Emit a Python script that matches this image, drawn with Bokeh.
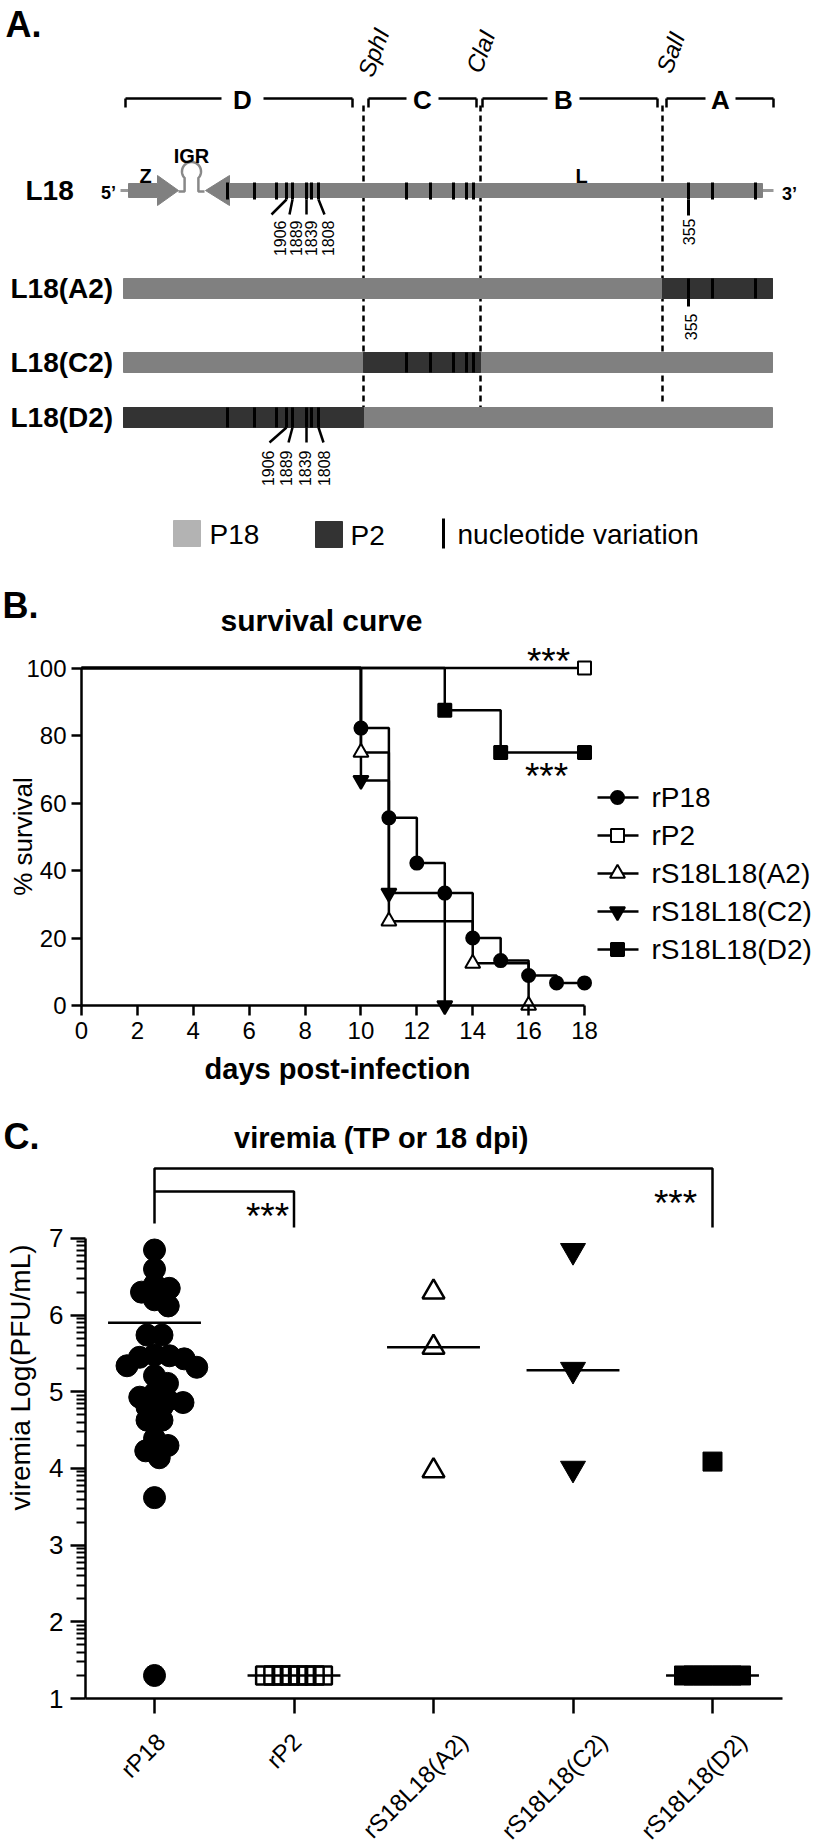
import math
import numpy as np
from bokeh.plotting import figure
from bokeh.models import Range1d, FixedTicker
from bokeh.layouts import column
from bokeh.embed import file_html
from bokeh.resources import INLINE
from bokeh.core.properties import value

FONT = "Liberation Sans"
GRAY = "#808080"
DARK = "#333333"
LIGHT = "#b3b3b3"
W = 820

# ---------------- Panel A data: L segment map (schematic map units) ----------------
seg_names = ["D", "C", "B", "A"]
seg_start = [125, 368, 482, 666]
seg_end = [352, 476, 657, 773]
seg_label_x = [242, 422, 563, 720]
seg_gap = [21, 16, 16, 15]
site_names = ["SphI", "ClaI", "SalI"]
site_pos = [363, 480, 662]
map_start, map_end = 123, 772
var_D = [227, 254, 276, 286, 292, 306, 311, 318]
var_C = [406, 430, 453, 466, 473]
var_A = [688, 712, 755]
pos_labels_D = ["1906", "1889", "1839", "1808"]
pos_label_D_idx = [3, 4, 5, 7]
pos_label_A = "355"
constructs = ["L18(A2)", "L18(C2)", "L18(D2)"]
construct_p2 = [(site_pos[2], map_end), (site_pos[0], site_pos[1]), (map_start, site_pos[0])]
construct_vars = [var_A, var_C, var_D]

# ---------------- Panel B data: survival ----------------
surv_names = ["rP18", "rP2", "rS18L18(A2)", "rS18L18(C2)", "rS18L18(D2)"]
day_ticks = [0, 2, 4, 6, 8, 10, 12, 14, 16, 18]
surv_ticks = [0, 20, 40, 60, 80, 100]
rP18_days = [0, 10, 11, 12, 13, 14, 15, 16, 17, 18]
rP18_surv = [100, 82.2, 55.6, 42.2, 33.3, 20.0, 13.3, 8.9, 6.7, 6.7]
rP2_days = [0, 18]
rP2_surv = [100, 100]
A2_days = [0, 10, 11, 14, 16]
A2_surv = [100, 75.0, 25.0, 12.5, 0.0]
C2_days = [0, 10, 11, 13]
C2_surv = [100, 66.7, 33.3, 0.0]
D2_days = [0, 13, 15, 18]
D2_surv = [100, 87.5, 75.0, 75.0]

# ---------------- Panel C data: viremia ----------------
vir_groups = ["rP18", "rP2", "rS18L18(A2)", "rS18L18(C2)", "rS18L18(D2)"]
vir_ticks = [1, 2, 3, 4, 5, 6, 7]
rP18_vir = [6.85, 6.60, 6.40, 6.35, 6.30, 6.20, 6.12, 5.74, 5.74, 5.48, 5.47, 5.45,
            5.43, 5.34, 5.32, 5.21, 5.11, 4.98, 4.93, 4.89, 4.86, 4.80, 4.80, 4.63,
            4.63, 4.39, 4.30, 4.23, 4.14, 3.62, 1.30]
rP2_vir = [1.30, 1.30, 1.30, 1.30, 1.30, 1.30, 1.30, 1.30]
A2_vir = [6.30, 5.58, 3.97]
C2_vir = [6.84, 5.29, 4.00]
D2_vir = [4.09, 1.30, 1.30, 1.30, 1.30, 1.30, 1.30, 1.30]
vir_center = [5.90, 1.30, 5.58, 5.28, 1.30]


def base_fig(h, xr, yr, **kw):
    p = figure(width=W, height=h, x_range=xr, y_range=yr, toolbar_location=None,
               output_backend="svg", title=None, min_border=0, **kw)
    p.outline_line_color = None
    p.background_fill_color = "white"
    p.border_fill_color = "white"
    return p


def txt(p, x, y, s, size, bold=False, align="left", baseline="middle", angle=0.0,
        italic=False, color="black"):
    style = "bold" if bold else ("italic" if italic else "normal")
    return p.text(x=[x], y=[y], text=[s], text_font=value(FONT), text_font_size=size,
                  text_font_style=style, text_align=align, text_baseline=baseline,
                  angle=angle, text_color=color)


def style_axis(ax, fs, tick_out):
    ax.axis_line_width = 2.5
    ax.axis_line_color = "black"
    ax.major_tick_line_width = 2.5
    ax.major_tick_line_color = "black"
    ax.major_tick_in = 0
    ax.major_tick_out = tick_out
    ax.minor_tick_in = 0
    ax.major_label_text_font = FONT
    ax.major_label_text_font_size = fs
    ax.major_label_text_color = "black"


# =============================== Panel A ===============================
A_H = 565
pA = base_fig(A_H, Range1d(0, W), Range1d(A_H, 0), x_axis_type=None, y_axis_type=None)

txt(pA, 5, 24, "A.", "36px", bold=True)

BY, BT = 98, 107
x0s, x1s, y0s, y1s = [], [], [], []
for s, e, c, g in zip(seg_start, seg_end, seg_label_x, seg_gap):
    x0s += [s, c + g, s, e]
    x1s += [c - g, e, s, e]
    y0s += [BY, BY, BY, BY]
    y1s += [BY, BY, BT, BT]
pA.segment(x0=x0s, y0=y0s, x1=x1s, y1=y1s, line_width=2.5, line_color="black")
for n, c in zip(seg_names, seg_label_x):
    txt(pA, c, 99, n, "26px", bold=True, align="center")

site_label_y = [52, 51, 52]
site_label_dx = [10, 0, 8]
site_end_y = [407, 407, 402]
pA.segment(x0=site_pos, y0=[105] * 3, x1=site_pos, y1=site_end_y, line_width=2.5,
           line_color="black", line_dash="6 4")
for n, xp, ly, dx in zip(site_names, site_pos, site_label_y, site_label_dx):
    txt(pA, xp + dx, ly, n, "24px", italic=True, align="center", angle=math.radians(70))

RY = 190
pA.segment(x0=[120, 762], y0=[RY, RY], x1=[128, 773], y1=[RY, RY], line_width=3, line_color="#999999")
pA.patch(x=[128, 157, 157, 178, 157, 157, 128], y=[183, 183, 175, 190, 205, 197, 197], color=GRAY)
pA.patch(x=[205, 229, 229], y=[190, 175, 205], color=GRAY)
pA.quad(left=[228], right=[762], top=[183], bottom=[197], color=GRAY)
th = np.radians(np.linspace(-40, 220, 60))
loop_x = [178, 184.1, 184.1] + list(191 + 9.5 * np.cos(th[::-1])) + [197.9, 197.9, 204]
loop_y = [191, 191, 177] + list(171 - 9.5 * np.sin(th[::-1])) + [177, 191, 191]
pA.line(x=loop_x, y=loop_y, line_width=2.5, line_color="#888888")

allv = var_D + var_C + var_A
pA.segment(x0=allv, y0=[182] * len(allv), x1=allv, y1=[199] * len(allv), line_width=3, line_color="black")
pA.segment(x0=[var_A[0]], y0=[199], x1=[var_A[0]], y1=[215], line_width=3, line_color="black")
lead_dx = [-15, -3, 0, 6]
lab_x_L18 = [279, 295, 310, 327]
lab_x_D2 = [267, 285, 304, 323]
lx0 = [var_D[i] for i in pos_label_D_idx]
pA.segment(x0=lx0, y0=[199] * 4, x1=[a + d for a, d in zip(lx0, lead_dx)], y1=[214] * 4,
           line_width=2.5, line_color="black")
for s, xx in zip(pos_labels_D, lab_x_L18):
    txt(pA, xx, 220, s, "16px", align="right", angle=math.pi / 2)
txt(pA, var_A[0], 218, pos_label_A, "16px", align="right", angle=math.pi / 2)

txt(pA, 25, RY, "L18", "28px", bold=True)
txt(pA, 108, 192, "5\u2019", "18px", bold=True, align="center")
txt(pA, 145, 175, "Z", "20px", bold=True, align="center")
txt(pA, 191, 155, "IGR", "20px", bold=True, align="center")
txt(pA, 581, 175, "L", "20px", bold=True, align="center")
txt(pA, 789, 193, "3\u2019", "18px", bold=True, align="center")

row_y = [288, 362, 417]
for name, yy, (d0, d1), vs in zip(constructs, row_y, construct_p2, construct_vars):
    pA.quad(left=[map_start], right=[map_end], top=[yy - 10], bottom=[yy + 10], color=GRAY)
    pA.quad(left=[d0], right=[d1], top=[yy - 10], bottom=[yy + 10], color=DARK)
    pA.segment(x0=vs, y0=[yy - 10] * len(vs), x1=vs, y1=[yy + 10] * len(vs), line_width=3,
               line_color="black")
    txt(pA, 10, yy, name, "28px", bold=True)
pA.segment(x0=[var_A[0]], y0=[298], x1=[var_A[0]], y1=[306], line_width=3, line_color="black")
txt(pA, var_A[0] + 2, 313, pos_label_A, "16px", align="right", angle=math.pi / 2)
D2y = row_y[2]
pA.segment(x0=lx0, y0=[D2y + 10] * 4, x1=[a + d for a, d in zip(lx0, [-17, -4, 0, 5])],
           y1=[D2y + 25] * 4, line_width=2.5, line_color="black")
for s, xx in zip(pos_labels_D, lab_x_D2):
    txt(pA, xx, D2y + 33, s, "16px", align="right", angle=math.pi / 2)

pA.quad(left=[173], right=[200], top=[520], bottom=[546], color=LIGHT)
txt(pA, 209, 534, "P18", "28px")
pA.quad(left=[315], right=[342], top=[521], bottom=[547], color=DARK)
txt(pA, 350, 535, "P2", "28px")
pA.segment(x0=[443], y0=[518], x1=[443], y1=[548], line_width=3, line_color="black")
txt(pA, 457, 534, "nucleotide variation", "28px")

# =============================== Panel B ===============================
B_TOP, B_H = 565, 530
BX0 = 81
BPX = (584 - BX0) / 18.0
BY0, BPY = 1005, 3.375
bx = lambda px: (px - BX0) / BPX
by = lambda py: (BY0 - py) / BPY

pB = base_fig(B_H, Range1d(bx(0), bx(W)), Range1d(by(B_TOP + B_H), by(B_TOP)))
pB.grid.visible = False
style_axis(pB.xaxis[0], "24px", 10)
style_axis(pB.yaxis[0], "24px", 10)
pB.xaxis.fixed_location = 0
pB.yaxis.fixed_location = 0
pB.xaxis.ticker = FixedTicker(ticks=day_ticks)
pB.yaxis.ticker = FixedTicker(ticks=surv_ticks)
pB.xaxis.minor_tick_line_color = None
pB.yaxis.minor_tick_line_color = None
pB.xaxis.bounds = (0, 18)
pB.yaxis.bounds = (0, 100)
pB.xaxis.major_label_standoff = 6
pB.yaxis.major_label_standoff = 5

series = [
    (rP18_days, rP18_surv, "circle", 13, "black"),
    (rP2_days, rP2_surv, "square", 13, "white"),
    (A2_days, A2_surv, "triangle", 15, "white"),
    (C2_days, C2_surv, "inverted_triangle", 15, "black"),
    (D2_days, D2_surv, "square", 13, "black"),
]
for d, s, m, sz, fc in series:
    pB.step(x=d, y=s, mode="after", line_width=2.5, line_color="black")
for d, s, m, sz, fc in series:
    pB.scatter(x=d[1:], y=s[1:], marker=m, size=sz, fill_color=fc, line_color="black", line_width=2)

leg_py = [797, 835, 873, 911, 949]
for (d, s, m, sz, fc), name, py in zip(series, surv_names, leg_py):
    pB.segment(x0=[bx(597)], y0=[by(py)], x1=[bx(638)], y1=[by(py)], line_width=2.5, line_color="black")
    pB.scatter(x=[bx(617)], y=[by(py)], marker=m, size=sz, fill_color=fc, line_color="black", line_width=2)
    txt(pB, bx(651), by(py), name, "28px")

txt(pB, bx(548), by(661), "***", "37px", align="center", baseline="alphabetic")
txt(pB, bx(546), by(776), "***", "37px", align="center", baseline="alphabetic")
txt(pB, bx(321), by(620), "survival curve", "30px", bold=True, align="center")
txt(pB, bx(2), by(605), "B.", "36px", bold=True)
txt(pB, bx(22), by(836), "% survival", "26px", align="center", angle=math.pi / 2)
txt(pB, bx(337), by(1068), "days post-infection", "29px", bold=True, align="center")

# =============================== Panel C ===============================
C_TOP, C_H = 1095, 750
CX0, CPX = 154, 139.5
CY1, CPY = 1698, 76.67
cx = lambda px: (px - CX0) / CPX
cy = lambda py: 1 + (CY1 - py) / CPY

pC = base_fig(C_H, Range1d(cx(0), cx(W)), Range1d(cy(C_TOP + C_H), cy(C_TOP)))
pC.grid.visible = False
style_axis(pC.xaxis[0], "24px", 15)
style_axis(pC.yaxis[0], "26px", 15)
pC.xaxis.fixed_location = 1
pC.yaxis.fixed_location = cx(85)
pC.xaxis.ticker = FixedTicker(ticks=[0, 1, 2, 3, 4])
pC.xaxis.major_label_overrides = {i: "" for i in range(5)}
pC.xaxis.minor_tick_line_color = None
pC.xaxis.bounds = (cx(85), cx(782))
minor = [k + math.log10(m) for k in range(1, 7) for m in range(2, 10)]
pC.yaxis.ticker = FixedTicker(ticks=vir_ticks, minor_ticks=minor)
pC.yaxis.minor_tick_out = 9
pC.yaxis.minor_tick_line_width = 2
pC.yaxis.minor_tick_line_color = "black"
pC.yaxis.bounds = (1, 7)
pC.yaxis.major_label_standoff = 7

# rotated category labels: right end placed a little to the right of each tick,
# drifting with the label length as in the original layout
for i, g in enumerate(vir_groups):
    approx_len = len(g) * 12.4
    dx = -7 + 0.27 * approx_len
    txt(pC, i + dx / CPX, cy(1737), g, "24px", align="right", angle=math.pi / 4)


def swarm(vals, d_px):
    vals = np.asarray(vals, float)
    order = np.argsort(-vals, kind="stable")
    off = np.zeros(len(vals))
    placed = []
    cands = [0.0]
    for k in range(1, 400):
        cands += [k * 0.25, -k * 0.25]
    for i in order:
        yi = vals[i] * CPY
        for c in cands:
            if all((c - px) ** 2 + (yi - py) ** 2 >= d_px ** 2 - 1e-9 for px, py in placed):
                off[i] = c
                break
        placed.append((off[i], yi))
    for v in np.unique(vals):
        msk = vals == v
        if msk.sum() > 1:
            off[msk] -= (off[msk].max() + off[msk].min()) / 2
    return off / CPX


groups = [
    (rP18_vir, "circle", 22, "black", 0, 15),
    (rP2_vir, "square", 18, None, 2.5, 8.2),
    (A2_vir, "triangle", 22, None, 2.5, 22),
    (C2_vir, "inverted_triangle", 25, "black", 0, 22),
    (D2_vir, "square", 19, "black", 0, 9.3),
]
for i, c in enumerate(vir_center):
    pC.segment(x0=[i - 0.333], y0=[c], x1=[i + 0.333], y1=[c], line_width=2.5, line_color="black")
for i, (vals, m, sz, fc, lw, dpx) in enumerate(groups):
    xs = i + swarm(vals, dpx)
    if fc is None:
        pC.scatter(x=xs, y=vals, marker=m, size=sz, fill_alpha=0, line_color="black", line_width=lw)
    else:
        pC.scatter(x=xs, y=vals, marker=m, size=sz, fill_color=fc, line_color=fc)

pC.line(x=[0, 0, 4, 4], y=[cy(1223), cy(1168), cy(1168), cy(1227)], line_width=2.5, line_color="black")
pC.line(x=[0, 1, 1], y=[cy(1191), cy(1191), cy(1227)], line_width=2.5, line_color="black")
txt(pC, cx(267), cy(1216), "***", "37px", align="center", baseline="alphabetic")
txt(pC, cx(675), cy(1203), "***", "37px", align="center", baseline="alphabetic")
txt(pC, cx(381), cy(1137), "viremia (TP or 18 dpi)", "29px", bold=True, align="center")
txt(pC, cx(3), cy(1136), "C.", "36px", bold=True)
txt(pC, cx(20), cy(1377), "viremia Log(PFU/mL)", "28px", align="center", angle=math.pi / 2)

layout = column(pA, pB, pC, spacing=0)
open("out.html", "w").write(file_html(layout, INLINE))
